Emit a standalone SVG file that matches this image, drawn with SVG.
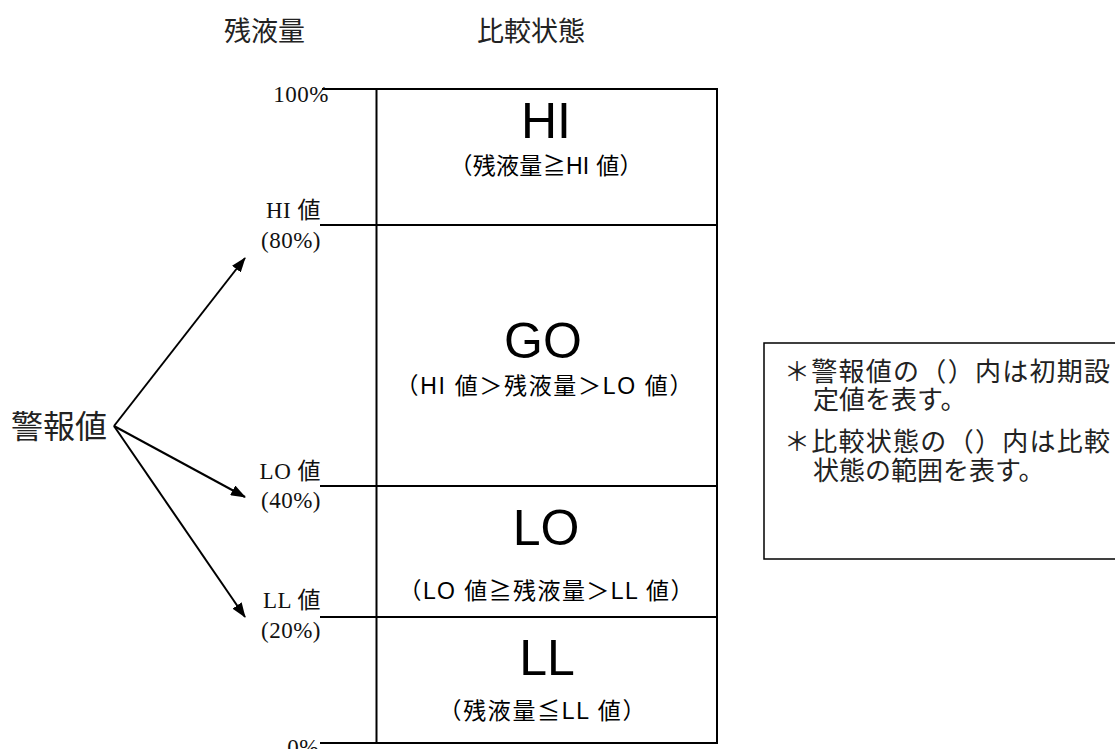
<svg xmlns="http://www.w3.org/2000/svg" width="1115" height="749" viewBox="0 0 1115 749">
<style>
.ln{stroke:#000;stroke-width:2;fill:none}
.hdr{font-family:"Noto Sans CJK JP",sans-serif;font-size:27px;fill:#222}
.lbl{font-family:"Liberation Serif","Noto Sans CJK JP",serif;font-size:23px;letter-spacing:0.5px;fill:#111;text-anchor:end}
.big{font-family:"Liberation Sans","Noto Sans CJK JP",sans-serif;font-size:50px;fill:#000;text-anchor:middle}
.sub{font-family:"Liberation Sans","Noto Sans CJK JP",sans-serif;font-size:23px;fill:#000;text-anchor:middle}
.note{font-family:"Noto Sans CJK JP",sans-serif;font-size:26px;fill:#222}
.arr{stroke:#000;stroke-width:2;fill:none;marker-end:url(#ah)}
</style>
<defs>
<marker id="ah" viewBox="0 0 15 11" refX="14" refY="5.5" markerWidth="15" markerHeight="11" markerUnits="userSpaceOnUse" orient="auto">
<path d="M0,0 L15,5.5 L0,11 Z" fill="#000"/>
</marker>
</defs>
<rect width="1115" height="749" fill="#fff"/>
<g id="headers">
<text class="hdr" x="224" y="41">残液量</text>
<text class="hdr" x="477" y="41">比較状態</text>
</g>
<g id="scale">
<line class="ln" x1="322" y1="89" x2="717" y2="89"/>
<line class="ln" x1="320" y1="225" x2="717" y2="225"/>
<line class="ln" x1="320" y1="486" x2="717" y2="486"/>
<line class="ln" x1="320" y1="617" x2="717" y2="617"/>
<line class="ln" x1="320" y1="743" x2="717" y2="743"/>
<line class="ln" x1="376.5" y1="89" x2="376.5" y2="743"/>
<line class="ln" x1="717" y1="88" x2="717" y2="744"/>
</g>
<g id="labels">
<text class="lbl" x="329" y="102">100%</text>
<text class="lbl" x="321" y="218">HI 値</text>
<text class="lbl" x="321" y="248">(80%)</text>
<text class="lbl" x="321" y="479">LO 値</text>
<text class="lbl" x="321" y="508">(40%)</text>
<text class="lbl" x="321" y="608">LL 値</text>
<text class="lbl" x="321" y="638">(20%)</text>
<text class="lbl" x="319" y="755">0%</text>
</g>
<g id="state-HI">
<text class="big" x="546" y="138">HI</text>
<text class="sub" x="546" y="174" textLength="193" lengthAdjust="spacing">（残液量≧HI 値）</text>
</g>
<g id="state-GO">
<text class="big" x="543" y="358">GO</text>
<text class="sub" x="544" y="394" textLength="297" lengthAdjust="spacing">（HI 値＞残液量＞LO 値）</text>
</g>
<g id="state-LO">
<text class="big" x="546" y="545">LO</text>
<text class="sub" x="546" y="599" textLength="295" lengthAdjust="spacing">（LO 値≧残液量＞LL 値）</text>
</g>
<g id="state-LL">
<text class="big" x="547" y="675">LL</text>
<text class="sub" x="542" y="719" textLength="207" lengthAdjust="spacing">（残液量≦LL 値）</text>
</g>
<g id="alarm">
<text x="11" y="438" style="font-family:'Noto Sans CJK JP',sans-serif;font-size:32px;fill:#222">警報値</text>
</g>
<g id="connectors">
<line class="arr" x1="114" y1="426" x2="245" y2="258"/>
<line class="arr" x1="114" y1="426" x2="245" y2="497"/>
<line class="arr" x1="114" y1="426" x2="245" y2="617"/>
</g>
<g id="note">
<rect x="764" y="343" width="370" height="216" fill="none" stroke="#000" stroke-width="1.5"/>
<text class="note" x="784" y="381" textLength="326" lengthAdjust="spacing">＊警報値の（）内は初期設</text>
<text class="note" x="813" y="409">定値を表す。</text>
<text class="note" x="784" y="451" textLength="326" lengthAdjust="spacing">＊比較状態の（）内は比較</text>
<text class="note" x="813" y="480">状態の範囲を表す。</text>
</g>
</svg>
